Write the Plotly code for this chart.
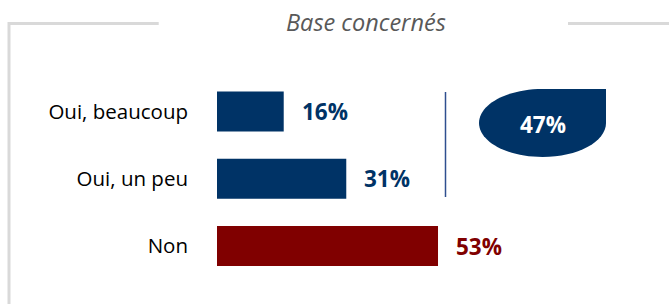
import plotly.graph_objects as go

categories = ["Non", "Oui, un peu", "Oui, beaucoup"]
values = [53, 31, 16]
bar_colors = ["#800000", "#003366", "#003366"]
label_colors = ["#800000", "#003366", "#003366"]
total_label = "47%"
title_text = "Base concernés"

W, H = 669, 304
L = 217  # plot area left edge (px)

def px(x):
    return (x - L) / (W - L)

def py(y):
    return 1 - y / H

fig = go.Figure()
fig.add_trace(go.Bar(
    y=categories, x=values, orientation="h",
    marker=dict(color=bar_colors, line=dict(width=0)),
    width=0.595, hoverinfo="skip",
))

annotations = []
for c, v, col in zip(categories, values, label_colors):
    annotations.append(dict(
        x=v, y=c, xref="x", yref="y", text=f"<b>{v}%</b>",
        showarrow=False, xanchor="left", yanchor="middle", xshift=16,
        font=dict(family="Open Sans", size=22.5, color=col),
    ))

# title
annotations.append(dict(
    x=px(365.5), y=py(22), xref="paper", yref="paper", text=f"<i>{title_text}</i>",
    showarrow=False, xanchor="center", yanchor="middle",
    font=dict(family="Open Sans", size=23.5, color="#595959"),
))

# teardrop blob with total
cx, cy, rx, ry = 542.5, 123, 63.5, 34
k = 0.5523
annotations.append(dict(
    x=px(cx), y=py(cy + 1), xref="paper", yref="paper", text=f"<b>{total_label}</b>",
    showarrow=False, xanchor="center", yanchor="middle",
    font=dict(family="Open Sans", size=22.5, color="white"),
))

def P(x, y):
    return f"{px(x):.5f},{py(y):.5f}"

path = (
    f"M {P(cx, cy - ry)} L {P(cx + rx, cy - ry)} L {P(cx + rx, cy)} "
    f"C {P(cx + rx, cy + k * ry)} {P(cx + k * rx, cy + ry)} {P(cx, cy + ry)} "
    f"C {P(cx - k * rx, cy + ry)} {P(cx - rx, cy + k * ry)} {P(cx - rx, cy)} "
    f"C {P(cx - rx, cy - k * ry)} {P(cx - k * rx, cy - ry)} {P(cx, cy - ry)} Z"
)

shapes = [
    # frame
    dict(type="line", xref="paper", yref="paper", x0=px(8), x1=px(158.7), y0=py(23.5), y1=py(23.5),
         line=dict(color="#d9d9d9", width=3)),
    dict(type="line", xref="paper", yref="paper", x0=px(568), x1=px(669), y0=py(23.5), y1=py(23.5),
         line=dict(color="#d9d9d9", width=3)),
    dict(type="line", xref="paper", yref="paper", x0=px(9), x1=px(9), y0=py(22), y1=py(304),
         line=dict(color="#d9d9d9", width=3)),
    # bracket line
    dict(type="line", xref="paper", yref="paper", x0=px(445.5), x1=px(445.5), y0=py(92), y1=py(197),
         line=dict(color="#2f4f8f", width=1.5)),
    # blob
    dict(type="path", xref="paper", yref="paper", path=path,
         fillcolor="#003366", line=dict(width=0)),
]

fig.update_layout(
    width=W, height=H,
    margin=dict(l=L, r=0, t=0, b=0),
    paper_bgcolor="white", plot_bgcolor="white",
    showlegend=False,
    xaxis=dict(range=[0, (W - L) / 4.17], visible=False, fixedrange=True),
    yaxis=dict(
        categoryorder="array", categoryarray=categories,
        range=[-0.8625, 3.658], showgrid=False, zeroline=False, showline=False,
        ticks="", ticklabelstandoff=28,
        tickfont=dict(family="Open Sans", size=20.5, color="#000000"),
        fixedrange=True,
    ),
    annotations=annotations,
    shapes=shapes,
)

fig.write_html(
    "out.html",
    config={"displayModeBar": False},
    post_script="document.body.style.margin='0';document.body.style.overflow='hidden';",
)
